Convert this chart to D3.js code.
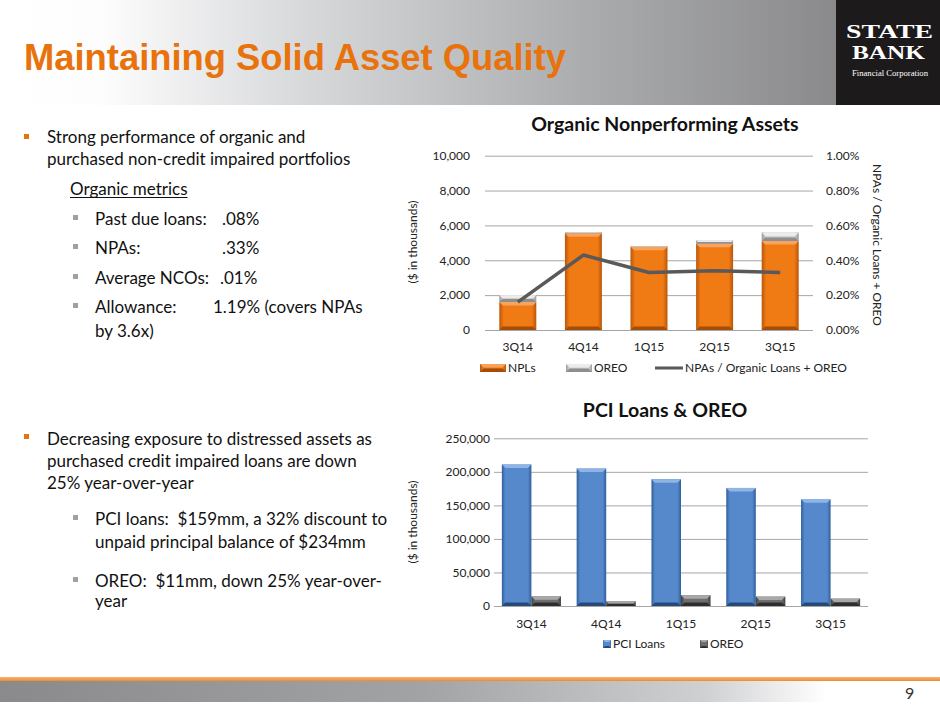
<!DOCTYPE html>
<html><head><meta charset="utf-8">
<script src="https://cdn.jsdelivr.net/npm/d3@7"></script>
<style>body{margin:0;background:#fff}svg{display:block}text{white-space:pre}</style>
</head><body><svg id="c" width="940" height="705"></svg>
<script>
// ---------- data ----------
const categories = ["3Q14","4Q14","1Q15","2Q15","3Q15"];
const nplValues = [1600, 5550, 4780, 4950, 5100];
const oreoOrganic = [400, 50, 20, 200, 500];
const npaRatio = [0.0016, 0.0043, 0.0033, 0.0034, 0.0033];
const pciLoans = [211000, 205000, 189000, 176000, 159000];
const pciOreo = [14500, 7000, 16000, 14000, 11000];
const leftTicksTop = [0, 2000, 4000, 6000, 8000, 10000];
const rightTicksTop = [0, 0.002, 0.004, 0.006, 0.008, 0.01];
const ticksBottom = [0, 50000, 100000, 150000, 200000, 250000];

const svg = d3.select("#c");
const defs = svg.append("defs");
const FONT = "Lato, 'Open Sans', sans-serif";

// ---------- header ----------
const hg = defs.append("linearGradient").attr("id","hdr");
[[0,"#ffffff"],[0.12,"#fdfdfd"],[0.36,"#d8d9db"],[0.7,"#abacae"],[1,"#8a8a8c"]].forEach(s=>hg.append("stop").attr("offset",s[0]).attr("stop-color",s[1]));
svg.append("rect").attr("x",0).attr("y",0).attr("width",836).attr("height",105).attr("fill","url(#hdr)");
svg.append("rect").attr("x",836).attr("y",0).attr("width",104).attr("height",105).attr("fill","#1c1a1a");
svg.append("text").attr("x",24).attr("y",69.5).attr("font-family","'Liberation Sans Narrow','Liberation Sans',Arial,sans-serif")
  .attr("font-weight","bold").attr("font-size",36).attr("fill","#e8720c")
  .attr("textLength",542).attr("lengthAdjust","spacingAndGlyphs").text("Maintaining Solid Asset Quality");
const serif = "'Liberation Serif','DejaVu Serif',serif";
svg.append("text").attr("x",846).attr("y",37.5).attr("font-family",serif).attr("font-weight","bold").attr("font-size",18.5)
  .attr("fill","#fff").attr("textLength",87).attr("lengthAdjust","spacingAndGlyphs").text("STATE");
svg.append("text").attr("x",852).attr("y",58.5).attr("font-family",serif).attr("font-weight","bold").attr("font-size",18.5)
  .attr("fill","#fff").attr("textLength",73).attr("lengthAdjust","spacingAndGlyphs").text("BANK");
svg.append("text").attr("x",852).attr("y",75.5).attr("font-family",serif).attr("font-size",8)
  .attr("fill","#fff").attr("textLength",76).attr("lengthAdjust","spacingAndGlyphs").text("Financial Corporation");

// ---------- footer ----------
const fg = defs.append("linearGradient").attr("id","ftr");
[[0,"#8a8a8c"],[0.45,"#a2a3a5"],[0.75,"#cfd0d2"],[0.88,"#ffffff"],[1,"#ffffff"]].forEach(s=>fg.append("stop").attr("offset",s[0]).attr("stop-color",s[1]));
const og = defs.append("linearGradient").attr("id","oline").attr("x1",0).attr("y1",0).attr("x2",0).attr("y2",1);
[[0,"#f8b277"],[1,"#ef8a30"]].forEach(s=>og.append("stop").attr("offset",s[0]).attr("stop-color",s[1]));
svg.append("rect").attr("x",0).attr("y",677).attr("width",940).attr("height",4).attr("fill","url(#oline)");
svg.append("rect").attr("x",0).attr("y",681).attr("width",940).attr("height",21).attr("fill","url(#ftr)");
svg.append("text").attr("x",905).attr("y",699).attr("font-family",FONT).attr("font-size",16).attr("fill","#333").text("9");

// ---------- left text ----------
function bullet(x,y,color){ svg.append("rect").attr("x",x).attr("y",y).attr("width",5).attr("height",5).attr("fill",color); }
function txt(x,y,s,opts={}){ return svg.append("text").attr("x",x).attr("y",y).attr("font-family",FONT).attr("font-size",opts.size||17).attr("fill","#111").text(s); }
bullet(24,134,"#e8720c");
txt(47,143,"Strong performance of organic and");
txt(47,165,"purchased non-credit impaired portfolios");
const om = txt(70,195,"Organic metrics");
const omw = om.node().getComputedTextLength();
svg.append("line").attr("x1",70).attr("x2",70+omw).attr("y1",197.5).attr("y2",197.5).attr("stroke","#111").attr("stroke-width",1);
const metrics = [["Past due loans:",".08%",222,225],["NPAs:",".33%",222,254],["Average NCOs:",".01%",220,284],["Allowance:","1.19% (covers NPAs",213,313]];
metrics.forEach(m=>{ bullet(73,m[3]-10,"#a0a0a0"); txt(95,m[3],m[0]); txt(m[2],m[3],m[1]); });
txt(95,337,"by 3.6x)");

bullet(24,434,"#e8720c");
txt(47,445,"Decreasing exposure to distressed assets as");
txt(47,467,"purchased credit impaired loans are down");
txt(47,489,"25% year-over-year");
bullet(73,515,"#a0a0a0");
txt(95,525,"PCI loans:  $159mm, a 32% discount to");
txt(95,548,"unpaid principal balance of $234mm");
bullet(73,577,"#a0a0a0");
txt(95,587,"OREO:  $11mm, down 25% year-over-");
txt(95,607,"year");

// ---------- bevel bar helper ----------
function grad(id, edge, mid){
  const g = defs.append("linearGradient").attr("id",id);
  [[0,edge],[0.12,mid],[0.88,mid],[1,edge]].forEach(s=>g.append("stop").attr("offset",s[0]).attr("stop-color",s[1]));
}
grad("gOr","#b9560a","#f07a14");
grad("gOreoL","#9a9a9a","#d0d0d0");
grad("gBl","#2f5e9c","#5689cc");
grad("gGr","#3e3e3e","#6e6e6e");
function bevelBar(g, x, y, w, h, fillId, topColor, botColor){
  if (h <= 0) return;
  g.append("rect").attr("x",x).attr("y",y).attr("width",w).attr("height",h).attr("fill",`url(#${fillId})`);
  const b = Math.min(3.5, h/2, w/4);
  g.append("path").attr("d",`M${x},${y}L${x+w},${y}L${x+w-b},${y+b}L${x+b},${y+b}Z`).attr("fill",topColor);
  g.append("path").attr("d",`M${x},${y+h}L${x+w},${y+h}L${x+w-b},${y+h-b}L${x+b},${y+h-b}Z`).attr("fill",botColor);
}

// ---------- chart 1: Organic Nonperforming Assets ----------
const c1 = svg.append("g");
const x1 = d3.scaleBand().domain(categories).range([485,813]).paddingInner(0.436).paddingOuter(0.218);
const y1 = d3.scaleLinear().domain([0,10000]).range([330,155.7]);
const y1r = d3.scaleLinear().domain([0,0.01]).range([330,155.7]);
c1.append("text").attr("x",665).attr("y",131).attr("text-anchor","middle").attr("font-family",FONT).attr("font-weight","bold").attr("font-size",19.5).attr("fill","#111").text("Organic Nonperforming Assets");
c1.append("g").selectAll("line").data(leftTicksTop).join("line")
  .attr("x1",485).attr("x2",813).attr("y1",d=>y1(d)+0.5).attr("y2",d=>y1(d)+0.5).attr("stroke","#a6a6a6").attr("stroke-width",1);
const lAx = c1.append("g").attr("transform","translate(485,0)").call(d3.axisLeft(y1).tickValues(leftTicksTop).tickFormat(d3.format(",")).tickSize(0).tickPadding(15));
const rAx = c1.append("g").attr("transform","translate(813,0)").call(d3.axisRight(y1r).tickValues(rightTicksTop).tickFormat(d3.format(".2%")).tickSize(0).tickPadding(13));
const xAx1 = c1.append("g").attr("transform","translate(0,330)").call(d3.axisBottom(x1).tickSize(0).tickPadding(12));
[lAx,rAx,xAx1].forEach(a=>{ a.select(".domain").remove(); a.selectAll("text").attr("font-family",FONT).attr("font-size",12).attr("fill","#222"); });
const bars1 = c1.append("g");
categories.forEach((c,i)=>{
  const x = x1(c), w = x1.bandwidth();
  bevelBar(bars1, x, y1(nplValues[i]), w, y1(0)-y1(nplValues[i]), "gOr", "#f8a25a", "#a54c08");
  const top = nplValues[i]+oreoOrganic[i];
  bevelBar(bars1, x, y1(top), w, y1(nplValues[i])-y1(top), "gOreoL", "#ececec", "#8e8e8e");
});
const line1 = d3.line().x((d,i)=>x1(categories[i])+x1.bandwidth()/2).y(d=>y1r(d));
c1.append("path").datum(npaRatio).attr("d",line1).attr("fill","none").attr("stroke","#595959").attr("stroke-width",3.5).attr("stroke-linejoin","round");
c1.append("text").attr("transform","translate(417,242) rotate(-90)").attr("text-anchor","middle").attr("font-family",FONT).attr("font-size",12).attr("fill","#222").text("($ in thousands)");
c1.append("text").attr("transform","translate(873,245) rotate(90)").attr("text-anchor","middle").attr("font-family",FONT).attr("font-size",12).attr("fill","#222").text("NPAs / Organic Loans + OREO");
// legend
const lg1 = c1.append("g");
bevelBar(lg1, 480, 364, 26, 8, "gOr", "#f8a25a", "#a54c08");
lg1.append("text").attr("x",508).attr("y",372).attr("font-family",FONT).attr("font-size",12).attr("fill","#222").text("NPLs");
bevelBar(lg1, 566, 364, 26, 8, "gOreoL", "#ececec", "#8e8e8e");
lg1.append("text").attr("x",594).attr("y",372).attr("font-family",FONT).attr("font-size",12).attr("fill","#222").text("OREO");
lg1.append("line").attr("x1",655).attr("x2",683).attr("y1",368).attr("y2",368).attr("stroke","#595959").attr("stroke-width",3);
lg1.append("text").attr("x",685).attr("y",372).attr("font-family",FONT).attr("font-size",12).attr("fill","#222").text("NPAs / Organic Loans + OREO");

// ---------- chart 2: PCI Loans & OREO ----------
const c2 = svg.append("g");
const x2 = d3.scaleBand().domain(categories).range([494,868]).paddingInner(0.21).paddingOuter(0.105);
const xs = d3.scaleBand().domain(["pci","oreo"]).range([0,x2.bandwidth()]);
const y2 = d3.scaleLinear().domain([0,250000]).range([606,438.3]);
c2.append("text").attr("x",665).attr("y",417).attr("text-anchor","middle").attr("font-family",FONT).attr("font-weight","bold").attr("font-size",19.5).attr("fill","#111").text("PCI Loans & OREO");
c2.append("g").selectAll("line").data(ticksBottom).join("line")
  .attr("x1",494).attr("x2",868).attr("y1",d=>y2(d)+0.5).attr("y2",d=>y2(d)+0.5).attr("stroke","#a6a6a6").attr("stroke-width",1);
const lAx2 = c2.append("g").attr("transform","translate(494,0)").call(d3.axisLeft(y2).tickValues(ticksBottom).tickFormat(d3.format(",")).tickSize(0).tickPadding(4));
const xAx2 = c2.append("g").attr("transform","translate(0,606)").call(d3.axisBottom(x2).tickSize(0).tickPadding(13));
[lAx2,xAx2].forEach(a=>{ a.select(".domain").remove(); a.selectAll("text").attr("font-family",FONT).attr("font-size",12).attr("fill","#222"); });
const bars2 = c2.append("g");
categories.forEach((c,i)=>{
  const bx = x2(c);
  bevelBar(bars2, bx+xs("pci"), y2(pciLoans[i]), xs.bandwidth(), y2(0)-y2(pciLoans[i]), "gBl", "#8fb4e6", "#244a7c");
  bevelBar(bars2, bx+xs("oreo"), y2(pciOreo[i]), xs.bandwidth(), y2(0)-y2(pciOreo[i]), "gGr", "#a8a8a8", "#2e2e2e");
});
c2.append("text").attr("transform","translate(417,522) rotate(-90)").attr("text-anchor","middle").attr("font-family",FONT).attr("font-size",12).attr("fill","#222").text("($ in thousands)");
const lg2 = c2.append("g");
bevelBar(lg2, 603, 640, 8, 8, "gBl", "#8fb4e6", "#244a7c");
lg2.append("text").attr("x",613).attr("y",648).attr("font-family",FONT).attr("font-size",12).attr("fill","#222").text("PCI Loans");
bevelBar(lg2, 700, 640, 8, 8, "gGr", "#a8a8a8", "#2e2e2e");
lg2.append("text").attr("x",710).attr("y",648).attr("font-family",FONT).attr("font-size",12).attr("fill","#222").text("OREO");
</script></body></html>
